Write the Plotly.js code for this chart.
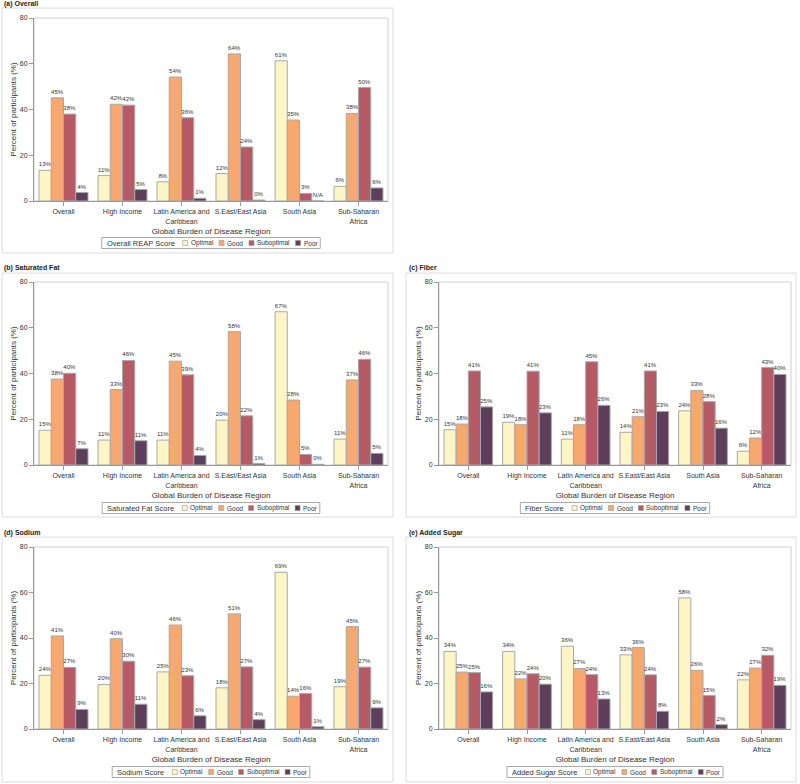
<!DOCTYPE html>
<html>
<head>
<meta charset="utf-8">
<script src="https://cdn.plot.ly/plotly-3.0.1.min.js"></script>
<style>html,body{margin:0;padding:0;background:#fff}#chart{width:800px;height:784px}</style>
</head>
<body>
<div id="chart"></div>
<script>
// ---- categories ----
const regions = ['Overall', 'High Income', 'Latin America and<br>Caribbean', 'S.East/East Asia', 'South Asia', 'Sub-Saharan<br>Africa'];
const scoreLevels = ['Optimal', 'Good', 'Suboptimal', 'Poor'];
const panelTitles = ['(a) Overall', '(b) Saturated Fat', '(c) Fiber', '(d) Sodium', '(e) Added Sugar'];
const legendTitles = ['Overall REAP Score', 'Saturated Fat Score', 'Fiber Score', 'Sodium Score', 'Added Sugar Score'];

// ---- (a) Overall REAP score (%) ----
const overallOptimal    = [13.4, 11.1, 8.4, 12.0, 61.3, 6.4];
const overallGood       = [45.1, 42.3, 54.2, 64.3, 35.4, 38.3];
const overallSuboptimal = [38.0, 41.9, 36.4, 23.6, 3.3, 49.6];
const overallPoor       = [3.7, 5.0, 1.2, 0.4, null, 5.7];

// ---- (b) Saturated fat (%) ----
const satFatOptimal    = [15.2, 10.9, 10.9, 19.6, 67.0, 11.3];
const satFatGood       = [37.6, 33.0, 45.4, 58.3, 28.4, 37.2];
const satFatSuboptimal = [40.1, 45.7, 39.4, 21.5, 4.6, 46.2];
const satFatPoor       = [7.1, 10.6, 4.2, 0.6, 0.3, 5.1];

// ---- (c) Fiber (%) ----
const fiberOptimal    = [15.4, 18.7, 11.3, 14.3, 23.7, 6.0];
const fiberGood       = [17.9, 17.6, 17.6, 21.1, 32.6, 11.8];
const fiberSuboptimal = [41.1, 41.0, 45.1, 41.1, 27.7, 42.6];
const fiberPoor       = [25.4, 22.8, 26.1, 23.4, 16.1, 39.6];

// ---- (d) Sodium (%) ----
const sodiumOptimal    = [23.6, 19.6, 25.1, 18.1, 68.9, 18.6];
const sodiumGood       = [40.9, 39.7, 45.7, 50.6, 14.4, 45.0];
const sodiumSuboptimal = [27.1, 29.8, 23.4, 27.3, 15.6, 27.2];
const sodiumPoor       = [8.6, 10.9, 5.8, 4.1, 1.0, 9.3];

// ---- (e) Added sugar (%) ----
const sugarOptimal    = [34.1, 34.1, 36.4, 32.6, 57.6, 21.6];
const sugarGood       = [25.0, 22.0, 26.6, 35.8, 25.8, 26.8];
const sugarSuboptimal = [24.8, 24.3, 23.9, 23.8, 14.7, 32.4];
const sugarPoor       = [16.3, 19.7, 13.2, 7.8, 1.9, 19.2];

const panels = [
  [overallOptimal, overallGood, overallSuboptimal, overallPoor],
  [satFatOptimal, satFatGood, satFatSuboptimal, satFatPoor],
  [fiberOptimal, fiberGood, fiberSuboptimal, fiberPoor],
  [sodiumOptimal, sodiumGood, sodiumSuboptimal, sodiumPoor],
  [sugarOptimal, sugarGood, sugarSuboptimal, sugarPoor]
];

// ---- styling ----
const W = 800, H = 784;
const levelColors = ['#FCF6C6', '#F6A86E', '#B65A66', '#5D3E5B'];
const px = v => v / W;
const py = v => 1 - v / H;

// panel geometry (pixels): plot area [x0,x1,yTop,yBottom], outer frame [x0,x1,y0,y1]
const plotBoxes = [
  [34, 388, 18, 201],
  [34, 388, 282, 465],
  [439, 791, 282, 465],
  [34, 388, 547, 729],
  [439, 791, 547, 729]
];
const frames = [
  [2, 393, 8, 253],
  [2, 393, 273, 517],
  [406, 796, 273, 517],
  [2, 393, 537, 782],
  [406, 796, 537, 782]
];
const titlePos = [[2, 4], [2, 268], [407, 268], [2, 533], [407, 533]];
const legendY = [243, 508, 508, 772, 772];

const FONT = 'Liberation Sans, Arial, sans-serif';
const LEG_TITLE_SIZE = 7.5, LEG_ITEM_SIZE = 6.5;
const ctx = document.createElement('canvas').getContext('2d');
function textW(t, size) { ctx.font = size + 'px "Liberation Sans", Arial, sans-serif'; return ctx.measureText(t).width; }

const traces = [];
const layout = {
  width: W, height: H,
  margin: {l: 0, r: 0, t: 0, b: 0},
  paper_bgcolor: '#fff', plot_bgcolor: '#fff',
  font: {family: FONT, color: '#333', size: 7},
  barmode: 'group', bargap: 0.17, bargroupgap: 0,
  showlegend: false,
  shapes: [], annotations: []
};

panels.forEach((series, p) => {
  const sfx = p === 0 ? '' : String(p + 1);
  series.forEach((vals, l) => {
    traces.push({
      type: 'bar',
      x: regions,
      y: vals.map(v => v === null ? 0 : v),
      name: scoreLevels[l],
      xaxis: 'x' + sfx, yaxis: 'y' + sfx,
      showlegend: false,
      marker: {color: levelColors[l], line: {color: '#a8a8a8', width: 1}},
      text: vals.map(v => v === null ? 'N/A' : Math.round(v) + '%'),
      textposition: 'outside',
      textfont: {size: 6, color: '#333', family: FONT},
      constraintext: 'none',
      cliponaxis: false,
      hoverinfo: 'x+y+name'
    });
  });
  const b = plotBoxes[p];
  layout['xaxis' + sfx] = {
    domain: [px(b[0]), px(b[1])], anchor: 'y' + sfx,
    showline: true, linecolor: '#999', linewidth: 1,
    ticks: 'outside', ticklen: 4, tickcolor: '#999',
    tickfont: {size: 7, color: '#333'},
    showgrid: false, zeroline: false, automargin: false,
    title: {text: 'Global Burden of Disease Region', font: {size: 8, color: '#333'}, standoff: 4}
  };
  layout['yaxis' + sfx] = {
    domain: [py(b[3]), py(b[2])], anchor: 'x' + sfx,
    range: [0, 80], tickvals: [0, 20, 40, 60, 80],
    showline: true, linecolor: '#999', linewidth: 1,
    ticks: 'outside', ticklen: 4, tickcolor: '#999',
    tickfont: {size: 7, color: '#333'},
    showgrid: false, zeroline: false, automargin: false,
    title: {text: 'Percent of participants (%)', font: {size: 8, color: '#333'}, standoff: 2}
  };

  // frames
  const f = frames[p];
  layout.shapes.push({
    type: 'rect', xref: 'paper', yref: 'paper', layer: 'below',
    x0: px(f[0]), x1: px(f[1]), y0: py(f[3]), y1: py(f[2]),
    line: {color: '#dcdcdc', width: 1}
  });
  layout.shapes.push({
    type: 'rect', xref: 'x' + sfx + ' domain', yref: 'y' + sfx + ' domain', layer: 'below',
    x0: 0, x1: 1, y0: 0, y1: 1,
    line: {color: '#cfcfcf', width: 1}
  });
  layout.annotations.push({
    xref: 'paper', yref: 'paper', x: px(titlePos[p][0]), y: py(titlePos[p][1]),
    xanchor: 'left', yanchor: 'middle', showarrow: false,
    text: '<b>' + panelTitles[p] + '</b>', font: {size: 7, color: '#222'}
  });

  // legend (boxed, horizontal, title on the left)
  const pad = 4, titleGap = 9, sq = 5, sqGap = 2, itemGap = 7;
  const tW = textW(legendTitles[p], LEG_TITLE_SIZE);
  const iW = scoreLevels.map(s => textW(s, LEG_ITEM_SIZE));
  const total = pad + tW + titleGap + iW.reduce((a, w) => a + sq + sqGap + w, 0) + itemGap * (scoreLevels.length - 1) + pad;
  const cx = (b[0] + b[1]) / 2, cy = legendY[p];
  const lx0 = cx - total / 2;
  layout.shapes.push({
    type: 'rect', xref: 'paper', yref: 'paper',
    x0: px(lx0), x1: px(lx0 + total), y0: py(cy + 5.5), y1: py(cy - 5.5),
    line: {color: '#aaaaaa', width: 1}, fillcolor: '#fff'
  });
  layout.annotations.push({
    xref: 'paper', yref: 'paper', x: px(lx0 + pad), y: py(cy), xanchor: 'left', yanchor: 'middle',
    showarrow: false, text: legendTitles[p], font: {size: LEG_TITLE_SIZE, color: '#333'},
    borderpad: 0
  });
  let cur = lx0 + pad + tW + titleGap;
  scoreLevels.forEach((s, l) => {
    layout.shapes.push({
      type: 'rect', xref: 'paper', yref: 'paper',
      x0: px(cur), x1: px(cur + sq), y0: py(cy + sq / 2), y1: py(cy - sq / 2),
      line: {color: '#999', width: 0.6}, fillcolor: levelColors[l]
    });
    layout.annotations.push({
      xref: 'paper', yref: 'paper', x: px(cur + sq + sqGap), y: py(cy), xanchor: 'left', yanchor: 'middle',
      showarrow: false, text: s, font: {size: LEG_ITEM_SIZE, color: '#333'}, borderpad: 0
    });
    cur += sq + sqGap + iW[l] + itemGap;
  });
});

Plotly.newPlot('chart', traces, layout, {displayModeBar: false, staticPlot: true});
</script>
</body>
</html>
